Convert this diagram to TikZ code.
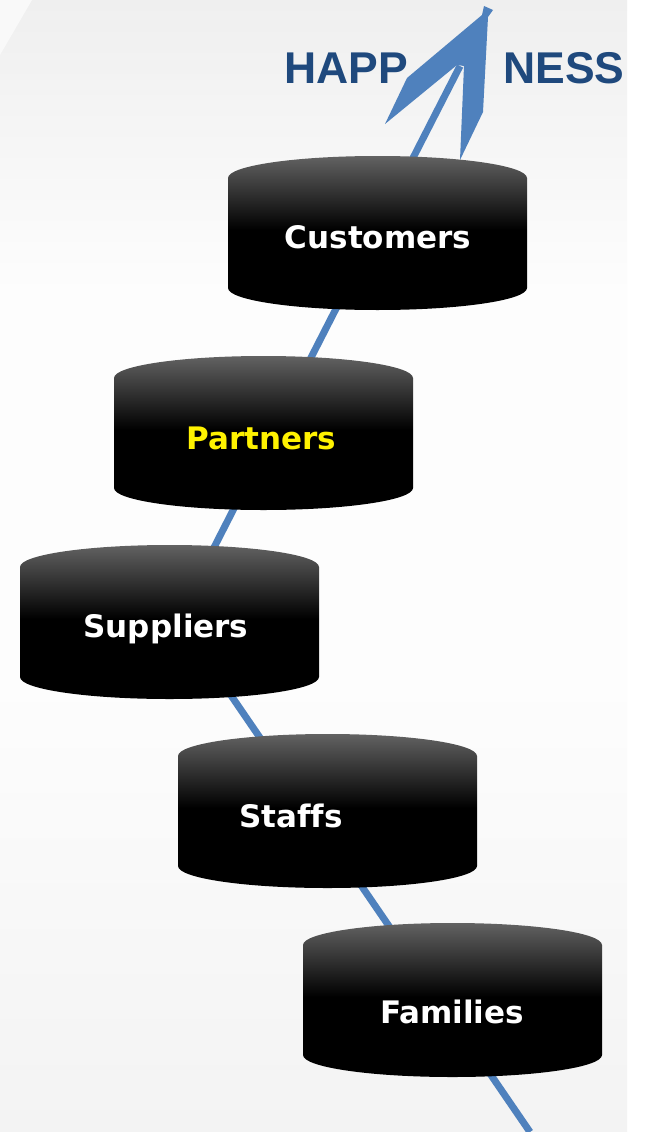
\documentclass[tikz,border=0pt]{standalone}
\usepackage{fontspec}
\newfontfamily\lblfont{DejaVu Sans}[Ligatures=NoCommon]
\newfontfamily\headfont{Liberation Sans}
\definecolor{cyltop}{HTML}{626262}
\definecolor{linblue}{HTML}{4F81BD}
\definecolor{headblue}{HTML}{1F497D}
\definecolor{bgtop}{HTML}{EFEFEF}
\definecolor{bgmid}{HTML}{FDFDFD}
\definecolor{bgbot}{HTML}{F3F3F3}
\pgfdeclareverticalshading{cylshade}{100bp}{color(0bp)=(black); color(25bp)=(black); color(51bp)=(black); color(75bp)=(cyltop); color(100bp)=(cyltop)}
\pgfdeclareverticalshading{bgshade}{100bp}{color(0bp)=(bgbot); color(25bp)=(bgbot); color(45bp)=(bgmid); color(62bp)=(bgmid); color(75bp)=(bgtop); color(100bp)=(bgtop)}
\begin{document}
\begin{tikzpicture}[x=1pt,y=-1pt,
  lbl/.style={font=\lblfont\bfseries\fontsize{31}{36}\selectfont, text=white, anchor=base, inner sep=0pt},
  head/.style={font=\headfont\bfseries\fontsize{44.5}{50}\selectfont, text=headblue, anchor=base west, inner sep=0pt},
  flow/.style={draw=linblue, line width=7pt, line join=miter},
  dbcyl/.pic={\shade[shading=cylshade] (0,22) .. controls (0,9.85) and (66.93,0) .. (149.5,0) .. controls (232.07,0) and (299,9.85) .. (299,22) -- (299,132) .. controls (299,144.15) and (232.07,154) .. (149.5,154) .. controls (66.93,154) and (0,144.15) .. (0,132) -- cycle;}]
\useasboundingbox (0,0) rectangle (648,1132);
\fill[white] (0,0) rectangle (648,1132);
\shade[shading=bgshade] (0,0) rectangle (627,1132);
\fill[white!60!bgtop] (0,0) -- (32,0) -- (0,55) -- cycle;
% heading
\node[head] (happ) at (284,84) {HAPP};
\node[head] (ness) at (503,84) {NESS};
% flow line
\coordinate (start) at (530,1132);
\coordinate (bend) at (178,618);
\coordinate (shafttop) at (460,66);
\draw[flow] (start) -- (bend) -- (shafttop);
% arrow head
\fill[linblue] (484,6) -- (493,10) -- (488,17) -- (483,112) -- (460,160) -- (464,66) -- (457,65) -- (385,124) -- (407,78) -- (482,15) -- cycle;
% cylinders
\pic at (228,156) {dbcyl};
\pic at (114,356) {dbcyl};
\pic at (20,545) {dbcyl};
\pic at (178,734) {dbcyl};
\pic at (303,923) {dbcyl};
% labels
\node[lbl] (customers) at (378,248) {Customers};
\node[lbl, text=yellow] (partners) at (261.5,449) {Partners};
\node[lbl] (suppliers) at (166,637) {Suppliers};
\node[lbl] (staffs) at (291,827) {Staffs};
\node[lbl] (families) at (452,1023) {Families};
\end{tikzpicture}
\end{document}
